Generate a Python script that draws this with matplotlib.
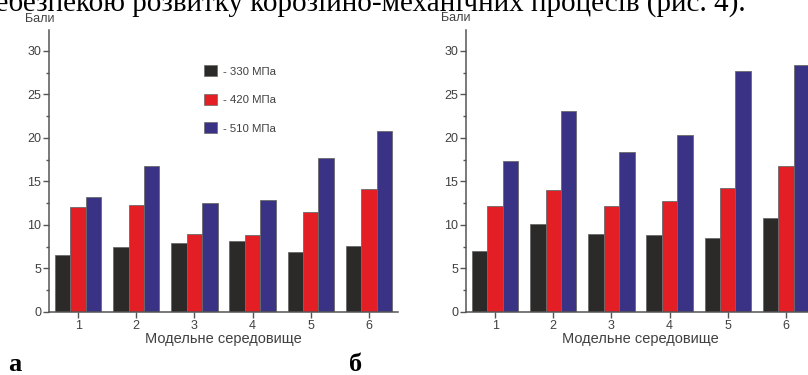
import matplotlib
matplotlib.use("Agg")
import matplotlib.pyplot as plt
from matplotlib.patches import Patch
from matplotlib.ticker import MultipleLocator
import numpy as np

categories = [1, 2, 3, 4, 5, 6]
series_labels = ["- 330 МПа", "- 420 МПа", "- 510 МПа"]
a_330 = [6.5, 7.5, 7.9, 8.2, 6.9, 7.6]
a_420 = [12.1, 12.3, 9.0, 8.9, 11.5, 14.1]
a_510 = [13.2, 16.8, 12.5, 12.9, 17.7, 20.8]
b_330 = [7.0, 10.1, 9.0, 8.9, 8.5, 10.8]
b_420 = [12.2, 14.0, 12.2, 12.7, 14.2, 16.8]
b_510 = [17.4, 23.1, 18.4, 20.3, 27.7, 28.4]

colors = ["#2b2a29", "#e31e24", "#3a3284"]
W, H = 808, 375
fig = plt.figure(figsize=(W / 100, H / 100), dpi=100)
plt.rcParams['font.family'] = ['Liberation Sans', 'DejaVu Sans']

gray = "#555555"
tcol = "#404040"

def panel(x0px, data, legend=False):
    ax = fig.add_axes([x0px / W, 1 - 312 / H, 349 / W, (312 - 30) / H])
    x = np.arange(len(categories))
    bw = 0.265
    for i, (vals, c) in enumerate(zip(data, colors)):
        ax.bar(x + (i - 1) * bw, vals, bw, color=c, edgecolor="#6a6a6a",
               linewidth=0.6, label=series_labels[i])
    ax.set_xlim(-0.5, 5.5)
    ax.set_ylim(0, 32.4)
    ax.set_xticks(x)
    ax.set_xticklabels([str(c) for c in categories])
    ax.set_yticks([0, 5, 10, 15, 20, 25, 30])
    ax.yaxis.set_minor_locator(MultipleLocator(2.5))
    for s in ("top", "right"):
        ax.spines[s].set_visible(False)
    for s in ("left", "bottom"):
        ax.spines[s].set_color(gray)
        ax.spines[s].set_linewidth(1.1)
    ax.tick_params(axis="both", which="major", direction="out", length=4,
                   width=1.0, color=gray, labelcolor=tcol, labelsize=9, pad=1.5)
    ax.tick_params(axis="y", which="minor", direction="out", length=2.5,
                   width=1.0, color=gray)
    ax.set_xlabel("Модельне середовище", fontsize=10.5, color=tcol, labelpad=0)
    if legend:
        handles = [Patch(facecolor=c, edgecolor="#6a6a6a", linewidth=0.5) for c in colors]
        fig.legend(handles, series_labels, loc="upper left",
                   bbox_to_anchor=(204 / W, 1 - 65 / H), frameon=False,
                   fontsize=8.2, handlelength=1.15, handleheight=1.15,
                   labelspacing=1.5, handletextpad=0.5, borderpad=0,
                   borderaxespad=0, labelcolor=tcol)
    return ax

ax1 = panel(49, [a_330, a_420, a_510], legend=True)
ax2 = panel(466, [b_330, b_420, b_510])

fig.text(25 / W, 1 - 19 / H, "Бали", fontsize=9, color=tcol, va="center", ha="left")
fig.text(441 / W, 1 - 18 / H, "Бали", fontsize=9, color=tcol, va="center", ha="left")

fig.text(-20 / W, 1 - 11 / H, "небезпекою розвитку корозійно-механічних процесів (рис. 4).",
         family="Liberation Serif", fontsize=21, color="black", va="baseline", ha="left")
fig.text(8 / W, 1 - 371 / H, "а", family="Liberation Serif", fontweight="bold",
         fontsize=19, va="baseline", ha="left")
fig.text(349 / W, 1 - 371 / H, "б", family="Liberation Serif", fontweight="bold",
         fontsize=19, va="baseline", ha="left")

fig.savefig("out.png", dpi=100)
